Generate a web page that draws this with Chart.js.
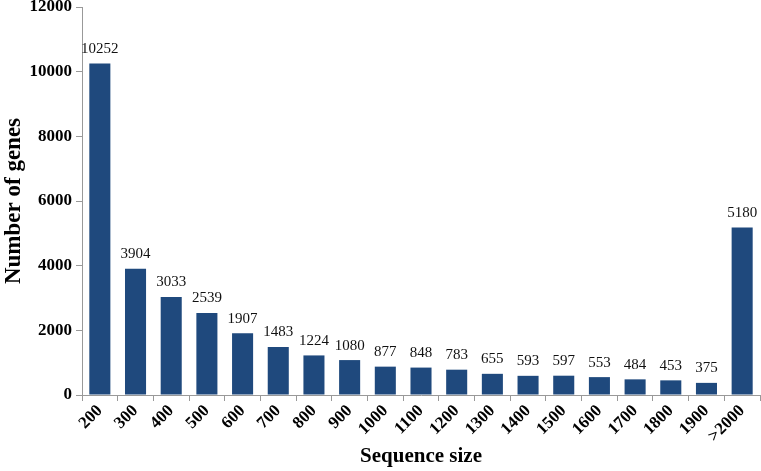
<!DOCTYPE html>
<html>
<head>
<meta charset="utf-8">
<script src="https://cdn.jsdelivr.net/npm/chart.js@4/dist/chart.umd.min.js"></script>
<style>
  body { margin: 0; background: #fff; }
  #wrap { width: 761px; height: 471px; }
</style>
</head>
<body>
<div id="wrap"><canvas id="SizeChart" width="761" height="471"></canvas></div>
<script>
// kategori panjang sekuens
const sizeLabels = ['200', '300', '400', '500', '600', '700', '800', '900', '1000', '1100',
    '1200', '1300', '1400', '1500', '1600', '1700', '1800', '1900', '>2000'];
// jumlah gen per kategori
const geneCounts = [10252, 3904, 3033, 2539, 1907, 1483, 1224, 1080, 877, 848,
    783, 655, 593, 597, 553, 484, 453, 375, 5180];
const yTicks = [0, 2000, 4000, 6000, 8000, 10000, 12000];

const serif = "'Liberation Serif', 'Times New Roman', serif";

// plugin kecil untuk menulis nilai di atas batang
const valueLabels = {
    id: 'valueLabels',
    afterDatasetsDraw(chart) {
        const ctx = chart.ctx;
        const meta = chart.getDatasetMeta(0);
        ctx.save();
        ctx.font = '15px ' + serif;
        ctx.fillStyle = '#111';
        ctx.textAlign = 'center';
        ctx.textBaseline = 'bottom';
        meta.data.forEach((bar, i) => {
            ctx.fillText(String(geneCounts[i]), bar.x, bar.y - 7);
        });
        ctx.restore();
    }
};

const ctx = document.getElementById('SizeChart').getContext('2d');
new Chart(ctx, {
    type: 'bar',
    data: {
        labels: sizeLabels,
        datasets: [{
            label: 'Number of genes',
            data: geneCounts,
            backgroundColor: '#1f497d',
            borderWidth: 0,
            categoryPercentage: 1.0,
            barPercentage: 0.59
        }]
    },
    options: {
        responsive: false,
        animation: false,
        layout: { padding: { top: 0, right: 1, left: 0, bottom: 0 } },
        plugins: {
            legend: { display: false },
            tooltip: { enabled: false }
        },
        scales: {
            x: {
                grid: {
                    offset: true,
                    drawOnChartArea: false,
                    tickLength: 6,
                    color: '#999'
                },
                border: { color: '#999' },
                ticks: {
                    color: '#000',
                    font: { family: serif, size: 17, weight: 'bold' },
                    minRotation: 45,
                    maxRotation: 45,
                    autoSkip: false,
                    padding: 0
                },
                title: {
                    display: true,
                    text: 'Sequence size',
                    color: '#000',
                    font: { family: serif, size: 21, weight: 'bold' },
                    padding: { top: 4, bottom: 2 }
                },
                afterFit(scale) { scale.height = 76; }
            },
            y: {
                min: 0,
                max: 12000,
                afterBuildTicks(scale) {
                    scale.ticks = yTicks.map(v => ({ value: v }));
                },
                grid: {
                    drawOnChartArea: false,
                    tickLength: 6,
                    color: '#999'
                },
                border: { color: '#999' },
                ticks: {
                    color: '#000',
                    font: { family: serif, size: 17, weight: 'bold' },
                    padding: 4,
                    callback: v => String(v)
                },
                title: {
                    display: true,
                    text: 'Number of genes',
                    color: '#000',
                    font: { family: serif, size: 23, weight: 'bold' },
                    padding: { top: 0, bottom: 2 }
                },
                afterFit(scale) {
                    scale.width = 82;
                    scale.paddingTop = 7;
                }
            }
        }
    },
    plugins: [valueLabels]
});
</script>
</body>
</html>
